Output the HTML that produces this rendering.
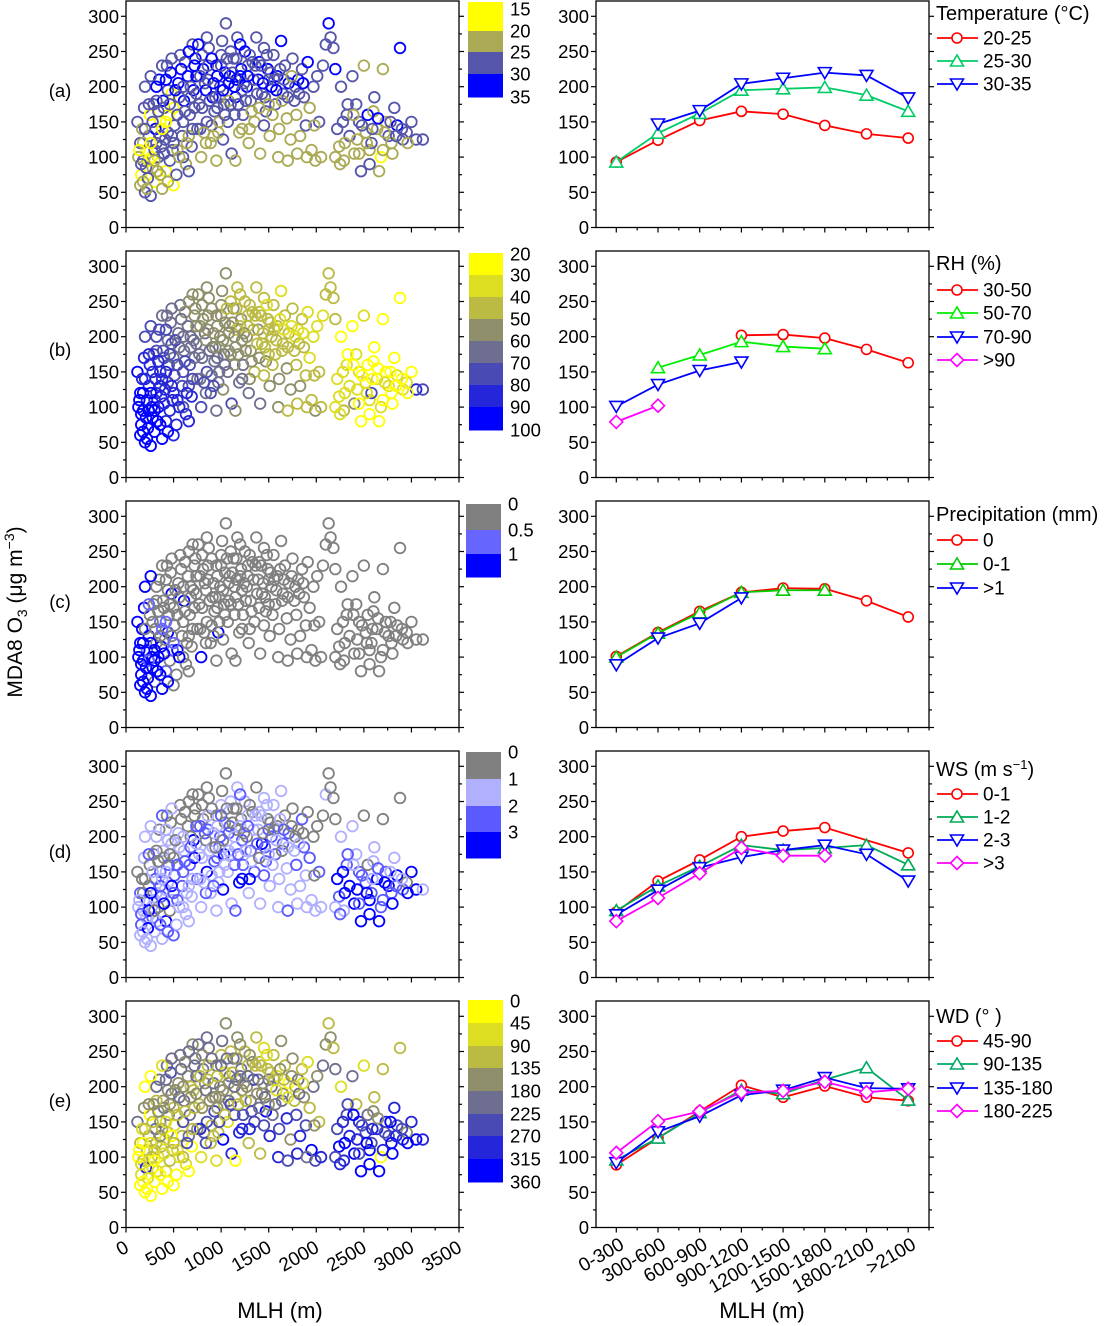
<!DOCTYPE html>
<html><head><meta charset="utf-8"><style>
html,body{margin:0;padding:0;background:#fff;}
svg{display:block;font-family:"Liberation Sans",Arial,sans-serif;}
</style></head><body>
<svg id="fig" width="1108" height="1326" viewBox="0 0 1108 1326" xmlns="http://www.w3.org/2000/svg"></svg>
<script>
// ---------- shared scatter data (same observations in every left panel) ----------
const mlh = [
120,150,160,180,200,220,240,260,280,300,
320,340,360,380,400,420,440,460,480,500,
150,170,190,210,230,250,270,290,310,330,
350,370,390,410,430,450,470,490,510,530,
550,570,590,610,630,650,670,690,710,730,
750,770,790,810,830,850,870,890,910,930,
950,970,990,1010,1030,1050,1070,1090,1110,1130,
1150,1170,1190,1210,1230,1250,1270,1290,1310,1330,
1350,1370,1390,1410,1430,1450,1470,1490,1510,1530,
1550,1570,1590,1610,1630,1650,1670,1690,1710,1730,
1750,1770,1790,1810,1830,1850,1870,1890,1910,1930,
1950,1970,1990,2010,2030,2050,2070,2100,2130,2150,
2180,2200,2220,2240,2260,2290,2320,2350,2380,2400,
2420,2450,2470,2500,2520,2540,2560,2580,2610,2640,
2660,2680,2700,2730,2760,2790,2820,2850,2880,2910,
200,260,320,380,440,500,560,620,680,740,
800,860,920,980,1040,1100,1160,1220,1280,1340,
600,660,720,780,840,900,960,1020,1080,1140,
130,180,240,300,360,420,480,540,600,660,
3000,3050,3120,2950,1600,1700,1800,2560,2600,2700,
700,850,1000,1200,1400,1500,950,1150,1300,1450,
140,160,180,200,220,240,260,280,300,320,
340,360,380,400,420,440,460,480,500,520,
540,560,580,600,620,640,660,680,700,720,
740,760,780,800,820,840,860,880,900,920,
940,960,980,1000,1020,1040,1060,1080,1100,1120,
1140,1160,1180,1200,1220,1240,1260,1280,1300,1320,
1360,1380,1400,1420,1440,1460,1480,1500,1520,1540,
1560,1580,1620,1640,1660,1700,1740,1780,1820,1860,
2280,2330,2390,2430,2480,2530,2590,2650,2720,2780,
2800,2840,2900,2960,2200,2250,2300,2450,1980,1900];
const o3 = [
150,60,75,95,50,110,130,45,85,65,
120,100,150,55,170,80,135,95,190,60,
120,140,170,85,70,160,100,175,140,80,
210,115,180,125,230,160,220,110,145,75,
205,245,130,180,90,215,160,115,195,240,
140,175,100,225,205,150,255,120,185,165,
230,135,200,265,175,290,150,215,105,240,
185,270,135,225,160,250,200,120,180,235,
150,270,210,105,190,255,165,225,130,200,
245,175,215,140,265,190,230,155,205,125,
240,180,160,210,130,225,185,145,235,170,
110,200,95,215,150,100,230,260,290,270,
255,225,140,115,200,95,160,130,215,105,
175,150,80,230,135,160,110,120,185,140,
80,100,225,150,130,120,170,145,255,125,
200,215,180,230,195,170,185,235,200,215,
245,230,205,185,220,250,210,195,230,210,
150,130,170,140,120,145,170,125,180,160,
100,120,95,110,130,150,130,110,100,80,
150,125,125,135,100,95,105,90,165,110,
260,270,245,260,235,210,95,95,140,145,
110,90,65,140,55,175,120,150,95,200,
165,75,140,105,210,65,175,240,120,195,
160,100,225,200,165,120,250,185,140,230,
190,260,215,170,135,195,210,180,240,130,
185,215,150,230,195,160,240,205,175,220,
200,240,175,215,140,205,180,215,245,165,
230,190,170,230,205,185,245,175,220,160,
210,195,225,180,210,185,215,200,190,205,
150,175,160,125,145,120,140,155,135,150,
105,130,140,120,100,90,120,105,145,100];
const temp = [
27,22,17,27,27,17,27,27,22,17, 27,27,17,22,27,17,27,27,17,17,
27,22,27,27,27,17,17,27,32,22, 32,27,32,27,27,17,32,27,27,27,
32,27,27,32,22,32,27,27,32,32, 27,27,22,32,27,27,27,22,32,27,
32,22,27,27,27,27,27,32,27,27, 32,27,22,32,27,32,32,22,27,27,
22,27,32,22,27,27,27,32,22,32, 27,27,32,22,32,27,27,22,32,22,
27,27,22,32,22,27,27,27,32,22, 22,27,22,27,27,22,27,27,32,27,
27,32,27,22,27,22,27,27,27,22, 27,27,27,22,22,32,22,27,27,22,
22,17,22,22,27,22,27,32,32,27, 27,27,27,27,27,17,27,27,27,32,
27,27,32,27,32,27,32,27,27,27, 27,22,27,27,22,27,27,27,22,27,
22,22,17,27,27,17,27,22,27,27, 27,27,27,27,22,22,22,27,22,22,
27,27,27,32,32,27,22,22,22,27,
17,27,22,27,22,27,17,27,22,32, 27,22,17,27,32,22,27,27,27,32,
27,22,32,27,27,22,32,27,27,32, 27,32,27,27,22,32,27,27,32,22,
27,32,22,27,32,27,27,32,27,27, 32,27,27,32,22,27,27,32,27,22,
27,27,22,27,32,27,27,22,27,22, 27,32,27,22,27,27,22,27,27,32,
27,27,22,22,27,22,27,32,22,27, 22,27,27,22,22,22,22,22,22,22];
const rh = [
95,95,95,95,95,85,85,95,95,95, 85,95,85,95,75,85,75,85,75,85,
95,85,85,95,95,85,95,75,85,95, 75,85,75,85,65,75,65,85,75,85,
65,65,75,65,85,65,75,85,65,55, 65,65,75,55,65,75,55,75,65,65,
55,65,55,55,65,55,65,55,75,55, 55,45,65,55,65,45,55,65,55,45,
45,45,55,65,45,45,55,45,55,45, 45,45,45,55,35,45,45,55,45,55,
45,45,45,35,55,45,45,45,35,35, 45,35,55,35,45,45,35,45,45,45,
45,45,35,35,25,45,35,35,25,55, 35,35,25,35,35,25,35,75,25,35,
25,35,25,25,35,25,25,35,25,35, 75,75,75,65,65,65,65,55,65,55,
55,55,55,55,55,45,45,55,45,45, 75,75,65,65,65,65,65,55,55,55,
95,95,95,85,85,85,85,85,75,85, 25,85,75,35,55,45,45,25,25,25,
55,55,55,45,45,45,65,55,55,45,
95,95,95,85,95,85,95,85,95,75, 85,95,85,85,75,95,75,65,85,75,
75,85,65,65,75,85,55,65,75,55, 65,55,55,65,75,55,55,65,55,75,
55,55,65,55,55,65,45,55,55,55, 55,45,55,45,65,55,55,45,45,55,
45,45,55,45,45,45,35,45,45,45, 45,45,35,45,35,45,35,35,45,35,
35,25,25,35,25,35,25,25,35,25, 25,25,25,25,35,35,35,25,45,45];
const prcp = [
1.5,1.5,1.5,1.5,1.5,0.7,1.5,1.5,1.5,0, 0,1.5,0.7,1.5,0,0.7,1.5,0,1.5,0,
1.5,1.5,1.5,1.5,1.5,0,1.5,0,0,1.5, 0,1.5,0,0,0,0,0,0.7,0,0,
0,0,0,1.5,0,0,0,0,0,0, 0,0,1.5,0,0,0,0,0,0,0,
0,1.5,0,0,0,0,0,0,0,0, 0,0,0,0,0,0,0,0,0,0,
0,0,0,0,0,0,0,0,0,0, 0,0,0,0,0,0,0,0,0,0,
0,0,0,0,0,0,0,0,0,0, 0,0,0,0,0,0,0,0,0,0,
0,0,0,0,0,0,0,0,0,0, 0,0,0,0,0,0,0,0,0,0,
0,0,0,0,0,0,0,0,0,0, 1.5,1.5,0,0,0,0,0,0,0,0,
0,0,0,0,0,0,0,0,0,0, 0,0,0,0,0,0,0,0,0,0,
1.5,1.5,0.7,1.5,0,0.7,0,1.5,0,0, 0,0,0,0,0,0,0,0,0,0,
0,0,0,0,0,0,0,0,0,0,
1.5,1.5,1.5,0,1.5,0.7,1.5,0,1.5,0, 0,1.5,0.7,1.5,0,1.5,0,0,0.7,0,
0,1.5,0,0,0,0,0,0,0,0, 0,0,0,0,0,0,0,0,0,0,
0,0,0,0,0,0,0,0,0,0, 0,0,0,0,0,0,0,0,0,0,
0,0,0,0,0,0,0,0,0,0, 0,0,0,0,0,0,0,0,0,0,
0,0,0,0,0,0,0,0,0,0, 0,0,0,0,0,0,0,0,0,0];
const ws = [
0.5,1.5,2.5,1.5,1.5,3.5,0.5,1.5,2.5,1.5, 1.5,0.5,2.5,1.5,0.5,3.5,1.5,0.5,1.5,2.5,
2.5,0.5,1.5,1.5,3.5,0.5,1.5,0.5,2.5,1.5, 0.5,2.5,1.5,1.5,0.5,2.5,0.5,1.5,2.5,1.5,
1.5,0.5,2.5,1.5,1.5,0.5,2.5,1.5,3.5,0.5, 2.5,1.5,1.5,0.5,2.5,3.5,0.5,1.5,1.5,2.5,
0.5,1.5,2.5,0.5,3.5,0.5,1.5,2.5,1.5,0.5, 1.5,1.5,3.5,0.5,2.5,1.5,0.5,1.5,2.5,0.5,
2.5,0.5,1.5,1.5,3.5,1.5,2.5,0.5,1.5,2.5, 1.5,2.5,0.5,1.5,1.5,2.5,0.5,1.5,2.5,1.5,
0.5,1.5,2.5,0.5,1.5,2.5,2.5,1.5,0.5,2.5, 1.5,0.5,1.5,0.5,2.5,1.5,0.5,1.5,0.5,0.5,
0.5,0.5,3.5,2.5,1.5,1.5,2.5,3.5,1.5,3.5, 1.5,2.5,3.5,0.5,2.5,0.5,3.5,2.5,1.5,3.5,
3.5,2.5,0.5,2.5,3.5,2.5,1.5,3.5,0.5,2.5, 1.5,1.5,0.5,2.5,1.5,0.5,1.5,0.5,0.5,2.5,
0.5,1.5,1.5,2.5,0.5,1.5,0.5,2.5,1.5,1.5, 2.5,1.5,3.5,1.5,2.5,1.5,2.5,3.5,1.5,2.5,
1.5,0.5,3.5,1.5,2.5,1.5,3.5,2.5,1.5,1.5, 3.5,3.5,1.5,0.5,1.5,2.5,1.5,3.5,1.5,2.5,
0.5,0.5,1.5,2.5,1.5,2.5,1.5,2.5,3.5,2.5,
1.5,2.5,1.5,0.5,1.5,2.5,3.5,1.5,0.5,1.5, 0.5,2.5,1.5,3.5,1.5,2.5,0.5,1.5,2.5,0.5,
2.5,1.5,0.5,1.5,2.5,1.5,0.5,2.5,1.5,0.5, 1.5,0.5,2.5,1.5,1.5,0.5,2.5,1.5,0.5,2.5,
0.5,1.5,1.5,2.5,0.5,1.5,0.5,2.5,1.5,0.5, 1.5,0.5,2.5,1.5,3.5,0.5,1.5,2.5,0.5,1.5,
1.5,2.5,0.5,1.5,0.5,2.5,1.5,1.5,0.5,1.5, 0.5,1.5,1.5,0.5,2.5,1.5,0.5,0.5,1.5,0.5,
3.5,2.5,1.5,3.5,2.5,3.5,1.5,2.5,3.5,1.5, 3.5,2.5,1.5,3.5,1.5,2.5,3.5,2.5,0.5,1.5];
const wd = [
200,20,70,110,20,110,160,20,70,20, 110,70,160,20,200,70,160,110,200,20,
110,70,160,290,70,20,110,160,200,70, 200,110,160,70,200,160,250,110,70,20,
160,200,110,200,70,160,200,20,110,200, 160,110,70,200,160,250,200,110,160,250,
200,110,160,200,110,160,70,200,290,200, 110,160,290,200,250,110,160,110,200,160,
250,110,200,110,160,70,340,110,290,200, 110,200,70,250,160,160,110,290,20,160,
160,110,250,200,290,110,160,250,70,110, 340,200,250,160,110,290,200,160,110,160,
110,200,250,340,70,290,250,290,200,340, 110,290,340,70,250,200,340,250,110,290,
340,20,110,290,250,340,290,250,110,290, 20,20,110,70,160,110,200,160,110,200,
160,110,200,160,70,110,200,160,110,250, 250,200,110,290,250,110,160,340,200,250,
20,20,70,110,160,70,20,70,110,20, 290,340,290,160,290,250,290,340,160,290,
160,200,110,160,110,200,70,20,290,250,
20,70,20,110,20,160,70,110,20,200, 160,20,110,70,200,20,160,200,110,160,
110,70,200,160,110,250,200,160,110,200, 160,200,110,160,250,200,110,160,200,110,
160,110,250,200,160,110,200,160,250,110, 200,160,110,200,290,160,110,200,160,250,
110,160,200,110,160,200,70,160,110,200, 110,70,160,200,110,70,160,110,200,70,
290,250,340,290,250,340,290,160,250,340, 340,290,250,340,250,290,340,250,160,200];

// ---------- line-chart data ----------
const cats = ["0-300","300-600","600-900","900-1200","1200-1500","1500-1800","1800-2100",">2100"];
const tA1 = [93,124,152,165,161,145,133,127];
const tA2 = [93,134,162,195,197,199,188,165];
const tA3 = [null,147,166,204,212,220,216,184];
const rhB1 = [null,null,null,202,203,198,182,163];
const rhB2 = [null,156,174,193,186,183,null,null];
const rhB3 = [101,132,152,164,null,null,null,null];
const rhB4 = [79,102,null,null,null,null,null,null];
const prC1 = [101,135,165,192,198,197,180,157];
const prC2 = [100,134,163,192,195,195,null,null];
const prC3 = [89,127,148,184,null,null,null,null];
const wsD1 = [93,137,167,200,208,213,null,177];
const wsD2 = [95,130,158,188,181,184,188,160];
const wsD3 = [89,124,156,171,181,188,175,137];
const wsD4 = [80,113,148,184,173,173,null,null];
const wdE1 = [89,127,165,202,185,201,185,180];
const wdE2 = [96,127,163,195,190,210,227,181];
const wdE3 = [92,136,158,188,195,213,198,197];
const wdE4 = [106,151,165,192,194,207,192,197];
const yTicks = [0,50,100,150,200,250,300];
const xTicksL = [0,500,1000,1500,2000,2500,3000,3500];

const NS = "http://www.w3.org/2000/svg";
const svg = document.getElementById("fig");
function el(tag, attrs, parent, txt){
  const e = document.createElementNS(NS, tag);
  for (const k in attrs) e.setAttribute(k, attrs[k]);
  if (txt !== undefined) e.textContent = txt;
  (parent || svg).appendChild(e);
  return e;
}
const LX0 = 126, LX1 = 459, RX0 = 596, RX1 = 929;
function yS(row, v){ return 227.5 + 250*row - v*0.704; }
function xL(m){ return LX0 + m*(LX1-LX0)/3500; }
function xR(i){ return 616.3 + 41.7*i; }

function frame(row, x0, x1, name){
  const top = 1 + 250*row, bot = yS(row,0);
  const g = el("g", {});
  
  
  el("rect", {x:x0, y:top, width:x1-x0, height:bot-top, fill:"none", stroke:"#000", "stroke-width":1.3}, g);
  for (let v=0; v<=312; v+=25){
    const y = yS(row,v); if (y < top+1) continue;
    const L = (v%50===0)?5:3;
    el("line",{x1:x0-L,y1:y,x2:x0,y2:y,stroke:"#000","stroke-width":1.2},g);
    el("line",{x1:x1,y1:y,x2:x1+L,y2:y,stroke:"#000","stroke-width":1.2},g);
  }
  yTicks.forEach(v=>{
    const t = el("text",{x:x0-7,y:yS(row,v)+6.5,"text-anchor":"end","font-size":18.5},g,String(v));
    
    
  });
  return g;
}

const colA = v => v<20?"#ffff00":v<25?"#aaaa55":v<30?"#5555aa":"#0000ff";
const col8 = ["#ffff00","#dddd22","#bbbb44","#8f8f6b","#6e6e90","#4a4ab4","#2525d9","#0000ff"];
const colB = v => col8[Math.min(7,Math.max(0,Math.floor((v-20)/10)))];
const colC = v => v<0.5?"#808080":v<1?"#6666ff":"#0000ff";
const colD = v => v<1?"#808080":v<2?"#b0b0ff":v<3?"#5a5aff":"#0000ff";
const colE = v => col8[Math.min(7,Math.floor(v/45))];

function scatter(row, attr, colf, name){
  const g = frame(row, LX0, LX1, name+"-frame");
  const pts = el("g",{});
  
  
  for (let i=0;i<mlh.length;i++){
    const c = el("circle",{cx:xL(mlh[i]),cy:yS(row,o3[i]),r:5.3,fill:"none",stroke:colf(attr[i]),"stroke-width":1.8},pts);
    
    
  }
  for (let m=0; m<=3500; m+=250){
    const L = (m%500===0)?5:3;
    el("line",{x1:xL(m),y1:yS(row,0),x2:xL(m),y2:yS(row,0)+L,stroke:"#000","stroke-width":1.2},g);
  }
}

function colorbar(x0, x1, bounds, colors, labels, lx, firstOff, name){
  const g = el("g",{});
  
  
  colors.forEach((c,i)=>{
    el("rect",{x:x0,y:bounds[i],width:x1-x0,height:bounds[i+1]-bounds[i]+0.5,fill:c},g);
  });
  labels.forEach((t,i)=>{
    const y = i===0 ? bounds[0]+firstOff : bounds[i];
    const tx = el("text",{x:lx,y:y+6.5,"font-size":18.5},g,t);
    
    
  });
}

function marker(g, type, x, y, c){
  let m;
  if (type==="o") m = el("circle",{cx:x,cy:y,r:5,fill:"#fff",stroke:c,"stroke-width":1.6},g);
  else if (type==="^") m = el("polygon",{points:`${x},${y-6} ${x-6.5},${y+5} ${x+6.5},${y+5}`,fill:"#fff",stroke:c,"stroke-width":1.6},g);
  else if (type==="v") m = el("polygon",{points:`${x},${y+6} ${x-6.5},${y-5} ${x+6.5},${y-5}`,fill:"#fff",stroke:c,"stroke-width":1.6},g);
  else m = el("polygon",{points:`${x},${y-6.5} ${x+6.5},${y} ${x},${y+6.5} ${x-6.5},${y}`,fill:"#fff",stroke:c,"stroke-width":1.6},g);
  
  
}

function lineChart(row, series, title, titleY, entryY, name){
  const g = frame(row, RX0, RX1, name+"-frame");
  for (let i=-0.5;i<=7.5;i+=0.5){
    const x = xR(i);
    if (x < RX0-0.5 || x > RX1+0.5) continue;
    const L = Number.isInteger(i)?5:3;
    el("line",{x1:x,y1:yS(row,0),x2:x,y2:yS(row,0)+L,stroke:"#000","stroke-width":1.2},g);
  }
  series.forEach(s=>{
    const sg = el("g",{});
    
    
    let d = "";
    s.data.forEach((v,i)=>{ if (v===null) return; d += (d?" L":"M")+xR(i)+" "+yS(row,v); });
    el("path",{d:d,fill:"none",stroke:s.c,"stroke-width":1.8},sg);
    s.data.forEach((v,i)=>{ if (v!==null) marker(sg, s.m, xR(i), yS(row,v), s.c); });
  });
  const lg = el("g",{});
  
  
  const tt = el("text",{x:936,y:titleY+7,"font-size":20},lg);
  tt.innerHTML = title;
  
  
  series.forEach((s,i)=>{
    const y = entryY[i];
    el("line",{x1:937,y1:y,x2:978,y2:y,stroke:s.c,"stroke-width":1.8},lg);
    marker(lg, s.m, 957, y, s.c);
    const t = el("text",{x:983,y:y+6.5,"font-size":19},lg,s.label);
    
    
  });
}

// rows
scatter(0, temp, colA, "panel-a-scatter");
scatter(1, rh, colB, "panel-b-scatter");
scatter(2, prcp, colC, "panel-c-scatter");
scatter(3, ws, colD, "panel-d-scatter");
scatter(4, wd, colE, "panel-e-scatter");

colorbar(468,503,[2,31,52,74,97],["#ffff00","#aaaa55","#5555aa","#0000ff"],["15","20","25","30","35"],510,7,"colorbar-temperature");
colorbar(469,503,[253,275,297,319,341,363,385,407,430],col8,["20","30","40","50","60","70","80","90","100"],510,1,"colorbar-rh");
colorbar(466,501,[504,530,554,577],["#808080","#6666ff","#0000ff"],["0","0.5","1"],508,0,"colorbar-precip");
colorbar(466,501,[752,779,806,832,858],["#808080","#b0b0ff","#5a5aff","#0000ff"],["0","1","2","3"],508,0,"colorbar-ws");
colorbar(468,503,[1000,1023,1046,1068,1091,1114,1136,1159,1182],col8,["0","45","90","135","180","225","270","315","360"],510,1,"colorbar-wd");

lineChart(0,[{data:tA1,c:"#ff0000",m:"o",label:"20-25"},{data:tA2,c:"#00cc66",m:"^",label:"25-30"},{data:tA3,c:"#0000ff",m:"v",label:"30-35"}],
  "Temperature (°C)",13,[38,61,84],"panel-a-line");
lineChart(1,[{data:rhB1,c:"#ff0000",m:"o",label:"30-50"},{data:rhB2,c:"#00ee00",m:"^",label:"50-70"},{data:rhB3,c:"#0000ff",m:"v",label:"70-90"},{data:rhB4,c:"#ff00ff",m:"d",label:">90"}],
  "RH (%)",263,[290,313,337,360],"panel-b-line");
lineChart(2,[{data:prC1,c:"#ff0000",m:"o",label:"0"},{data:prC2,c:"#00cc00",m:"^",label:"0-1"},{data:prC3,c:"#0000ff",m:"v",label:">1"}],
  "Precipitation (mm)",514,[540,564,588],"panel-c-line");
lineChart(3,[{data:wsD1,c:"#ff0000",m:"o",label:"0-1"},{data:wsD2,c:"#00aa55",m:"^",label:"1-2"},{data:wsD3,c:"#0000ff",m:"v",label:"2-3"},{data:wsD4,c:"#ff00ff",m:"d",label:">3"}],
  'WS (m s<tspan dy="-7" font-size="13">−1</tspan><tspan dy="7">)</tspan>',769,[794,817,840,863],"panel-d-line");
lineChart(4,[{data:wdE1,c:"#ff0000",m:"o",label:"45-90"},{data:wdE2,c:"#00aa66",m:"^",label:"90-135"},{data:wdE3,c:"#0000ff",m:"v",label:"135-180"},{data:wdE4,c:"#ff00ff",m:"d",label:"180-225"}],
  "WD (° )",1016,[1041,1064,1088,1111],"panel-e-line");

// x tick labels (bottom row)
xTicksL.forEach(m=>{
  const x = xL(m)+4, y = 1251;
  const t = el("text",{x:x,y:y,"text-anchor":"end","font-size":19,transform:`rotate(-30 ${x} ${y})`},svg,String(m));
  
  
});
cats.forEach((c,i)=>{
  const x = xR(i)+9, y = 1248;
  const t = el("text",{x:x,y:y,"text-anchor":"end","font-size":19,transform:`rotate(-30 ${x} ${y})`},svg,c);
  
  
});

// titles
let t;
t = el("text",{x:280,y:1318,"text-anchor":"middle","font-size":22},svg,"MLH (m)");


t = el("text",{x:762,y:1318,"text-anchor":"middle","font-size":22},svg,"MLH (m)");


t = el("text",{x:22,y:612,"text-anchor":"middle","font-size":21,transform:"rotate(-90 22 612)"},svg);
t.innerHTML = 'MDA8 O<tspan dy="5" font-size="14">3</tspan><tspan dy="-5"> (μg m</tspan><tspan dy="-8" font-size="14">−3</tspan><tspan dy="8">)</tspan>';


["(a)","(b)","(c)","(d)","(e)"].forEach((s,k)=>{
  const r = el("text",{x:60,y:[97,356,608,858,1107][k],"text-anchor":"middle","font-size":18.5},svg,s);
  
  
});
</script>
</body></html>
